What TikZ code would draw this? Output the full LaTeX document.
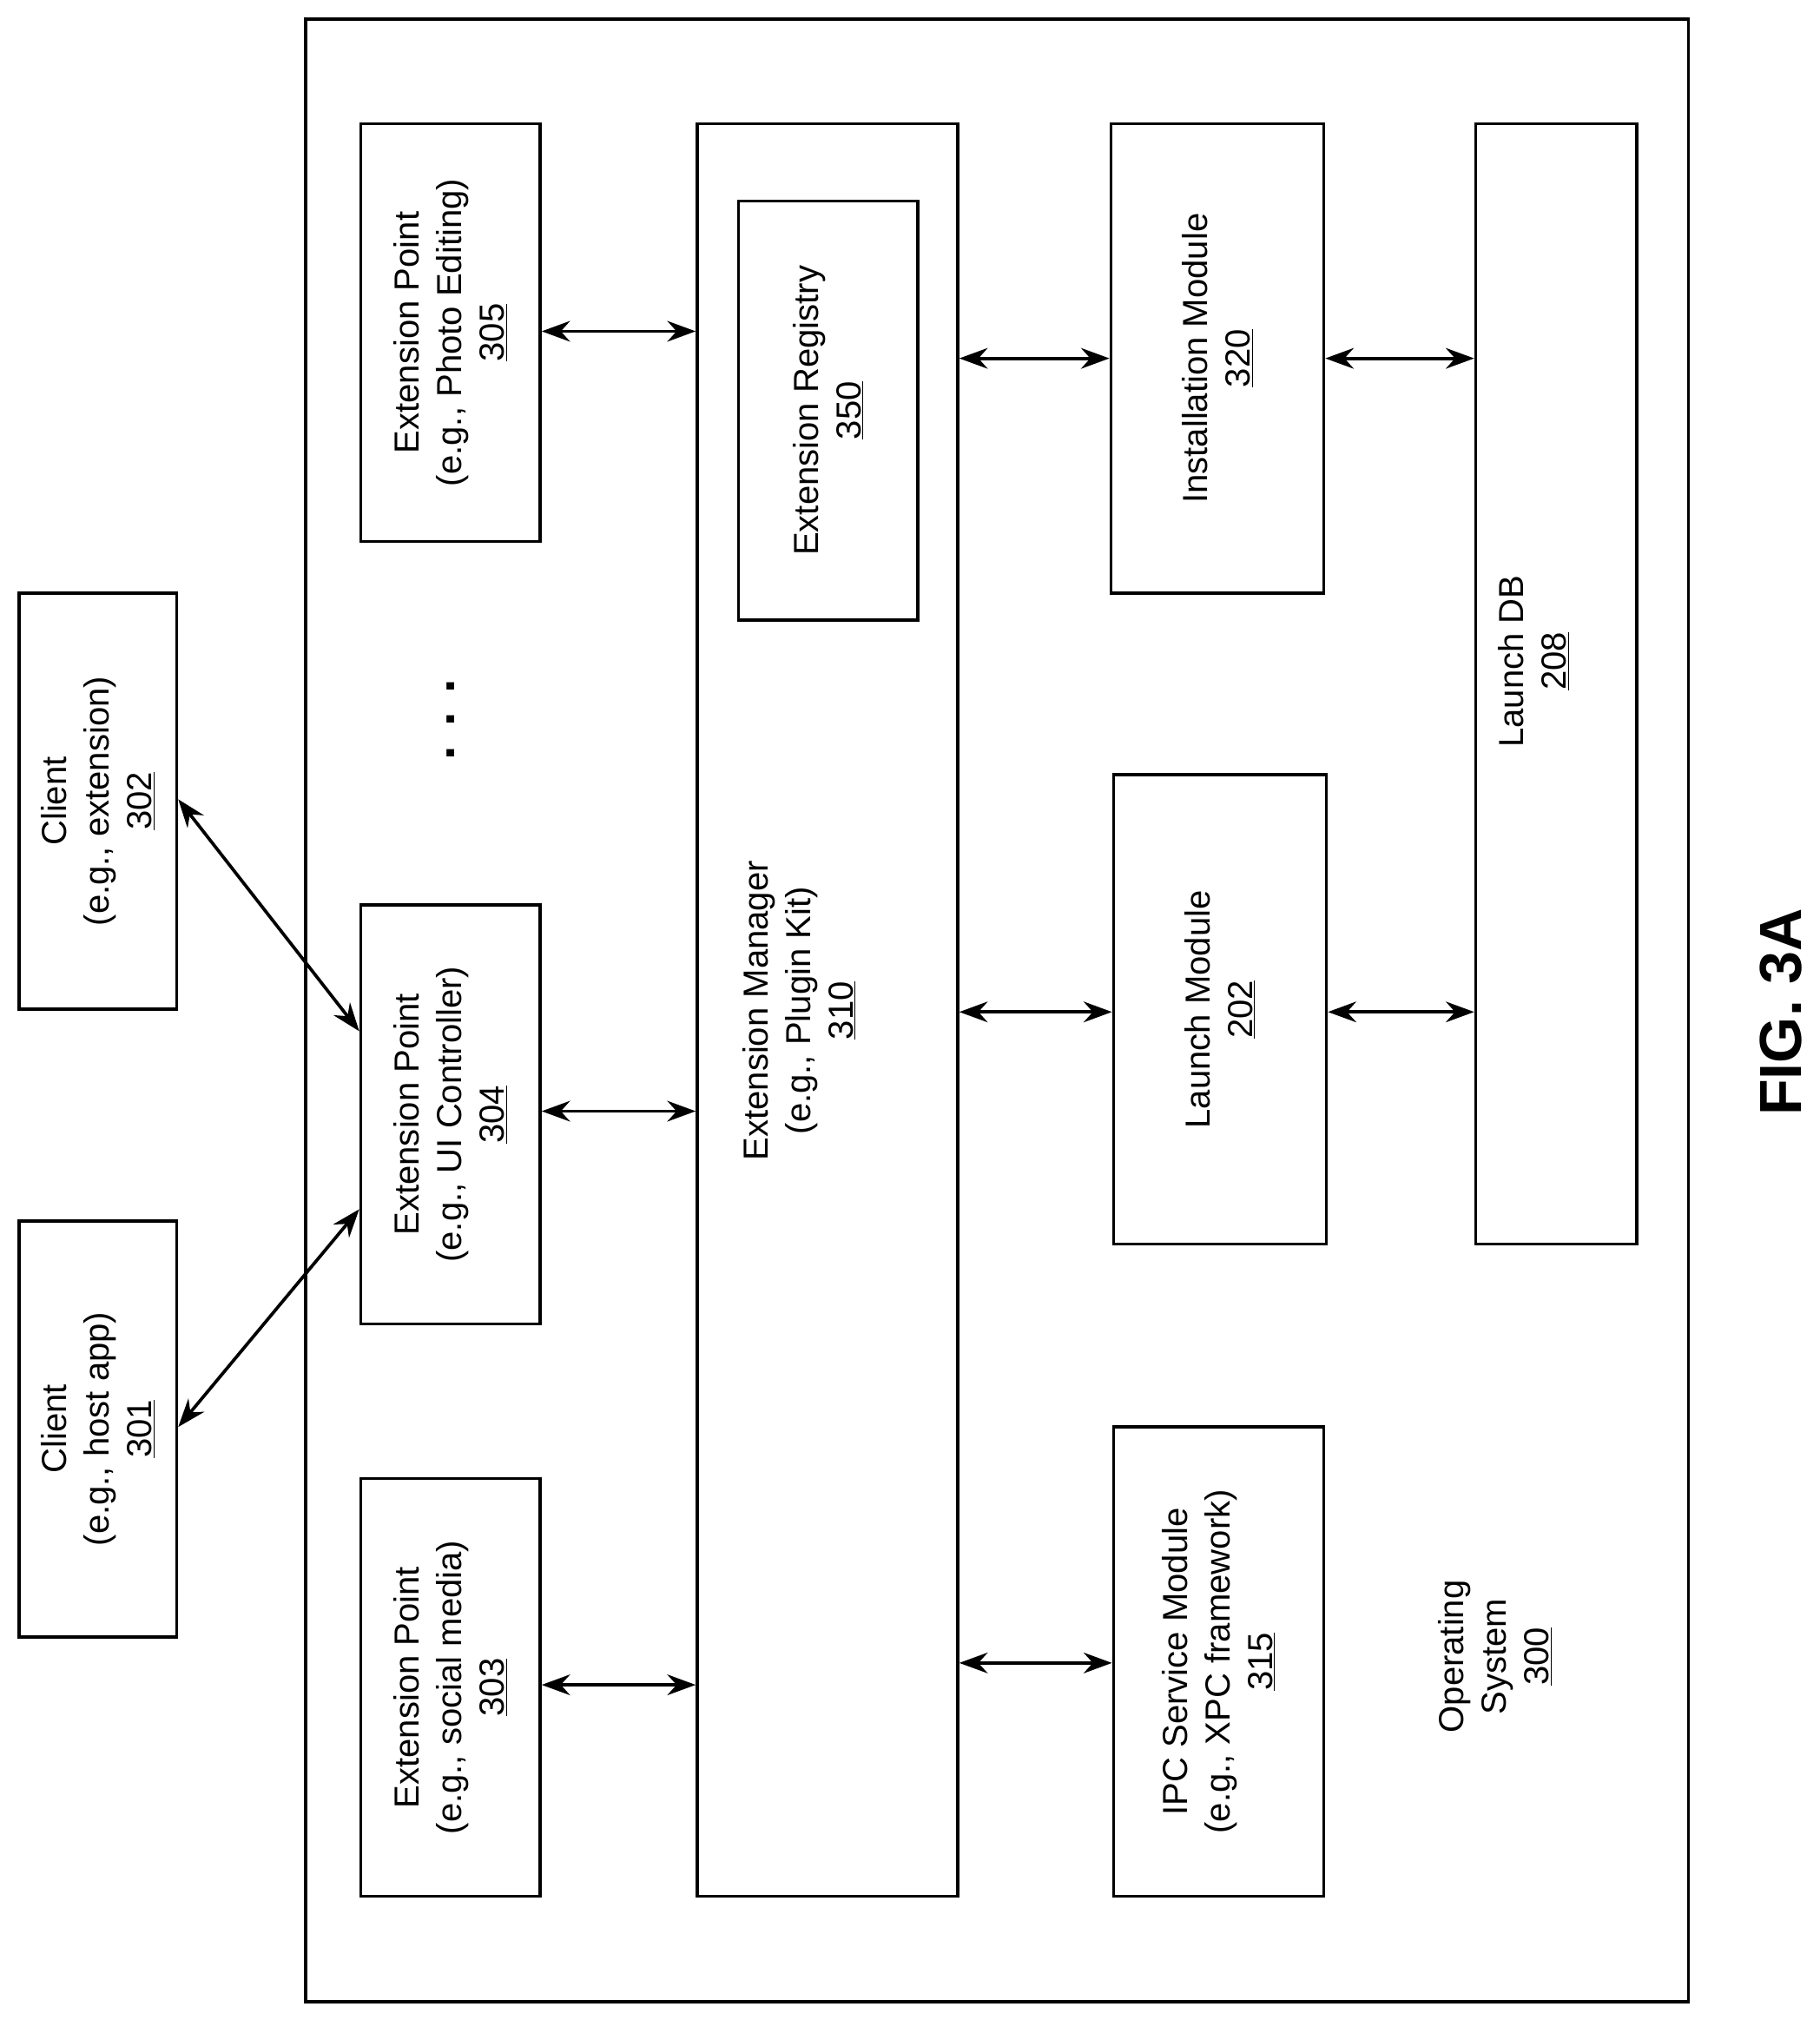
\documentclass[tikz,border=0pt]{standalone}
\usepackage{fontspec}
\setmainfont{Liberation Sans}
\usetikzlibrary{arrows.meta}
\begin{document}
\begin{tikzpicture}[x=1pt,y=-1pt,
  box/.style={draw,line width=2.5pt,inner sep=0},
  lbl/.style={rotate=90,align=center,font=\fontsize{27}{33}\selectfont},
  arr/.style={line width=2.5pt,{Stealth[length=22pt,width=16pt]}-{Stealth[length=22pt,width=16pt]}}]
\useasboundingbox (0,0) rectangle (1412,1567);
\newcommand{\bx}[5]{\node[box,minimum width=#4-#2,minimum height=#5-#3] (#1) at ({(#2+#4)/2},{(#3+#5)/2}) {};}
\bx{os}{237}{15}{1310}{1553}
\bx{c302}{15}{460}{137}{783}
\bx{c301}{15}{947}{137}{1270}
\bx{e305}{280}{96}{419}{420}
\bx{e304}{280}{702}{419}{1027}
\bx{e303}{280}{1147}{419}{1471}
\bx{em}{541}{96}{743}{1471}
\bx{reg}{573}{156}{712}{481}
\bx{inst}{862}{96}{1027}{460}
\bx{lm}{864}{601}{1029}{965}
\bx{ipc}{864}{1107}{1027}{1471}
\bx{db}{1145}{96}{1270}{965}
\node[lbl] at (c302) {Client\\(e.g., extension)\\\underline{302}};
\node[lbl] at (c301) {Client\\(e.g., host app)\\\underline{301}};
\node[lbl] at (e305) {Extension Point\\(e.g., Photo Editing)\\\underline{305}};
\node[lbl] at (e304) {Extension Point\\(e.g., UI Controller)\\\underline{304}};
\node[lbl] at (e303) {Extension Point\\(e.g., social media)\\\underline{303}};
\node[lbl] at (620,784) {Extension Manager\\(e.g., Plugin Kit)\\\underline{310}};
\node[lbl] at (reg) {Extension Registry\\\underline{350}};
\node[lbl] at (inst) {Installation Module\\\underline{320}};
\node[lbl] at (lm) {Launch Module\\\underline{202}};
\node[lbl] at (ipc) {IPC Service Module\\(e.g., XPC framework)\\\underline{315}};
\node[lbl] at (1190,513) {Launch DB\\\underline{208}};
\node[lbl] (oslbl) at (1160,1285) {Operating\\System\\\underline{300}};
\node[rotate=90,font=\fontsize{46}{50}\selectfont\bfseries] (fig) at (1382,785) {FIG. 3A};
\node[rotate=90,font=\fontsize{40}{40}\selectfont\bfseries] (dots) at (350,558) {. . .};
\draw[arr] (e305.east |- 0,257) -- (em.west |- 0,257);
\draw[arr] (e304.east |- 0,862) -- (em.west |- 0,862);
\draw[arr] (e303.east |- 0,1307) -- (em.west |- 0,1307);
\draw[arr] (em.east |- 0,278) -- (inst.west |- 0,278);
\draw[arr] (inst.east |- 0,278) -- (db.west |- 0,278);
\draw[arr] (em.east |- 0,785) -- (lm.west |- 0,785);
\draw[arr] (lm.east |- 0,785) -- (db.west |- 0,785);
\draw[arr] (em.east |- 0,1290) -- (ipc.west |- 0,1290);
\draw[arr] (c302.east |- 0,620) -- (e304.west |- 0,800);
\draw[arr] (c301.east |- 0,1107) -- (e304.west |- 0,938);
\end{tikzpicture}
\end{document}
